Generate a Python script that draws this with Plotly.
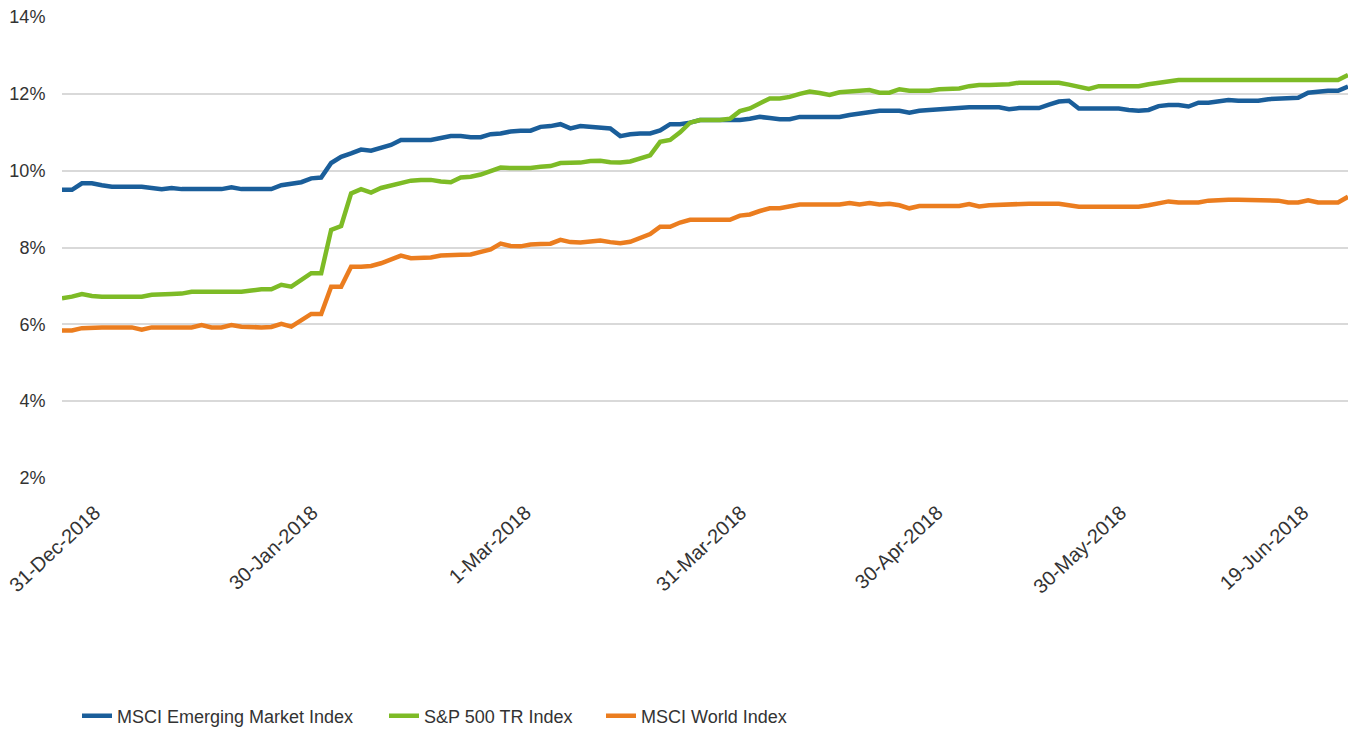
import plotly.graph_objects as go

# ---- data (percent) ----
tick_labels = ["31-Dec-2018", "30-Jan-2018", "1-Mar-2018", "31-Mar-2018",
               "30-Apr-2018", "30-May-2018", "19-Jun-2018"]
tick_positions = [3.3, 25.1, 46.5, 68.1, 87.8, 106.2, 124.5]

msci_em = [
    9.50, 9.50, 9.67, 9.67, 9.62, 9.58, 9.58, 9.58, 9.58, 9.55,
    9.52, 9.55, 9.52, 9.52, 9.52, 9.52, 9.52, 9.57, 9.52, 9.52,
    9.52, 9.52, 9.62, 9.67, 9.70, 9.80, 9.82, 10.20, 10.36, 10.45,
    10.55, 10.52, 10.58, 10.67, 10.80, 10.80, 10.80, 10.80, 10.85, 10.90,
    10.90, 10.87, 10.87, 10.95, 10.97, 11.02, 11.04, 11.04, 11.14, 11.16,
    11.21, 11.10, 11.16, 11.14, 11.10, 11.10, 10.90, 10.95, 10.97, 10.97,
    11.05, 11.21, 11.21, 11.25, 11.32, 11.32, 11.32, 11.32, 11.32, 11.35,
    11.40, 11.37, 11.34, 11.34, 11.40, 11.40, 11.40, 11.40, 11.40, 11.45,
    11.49, 11.52, 11.56, 11.56, 11.56, 11.51, 11.56, 11.58, 11.60, 11.63,
    11.65, 11.65, 11.65, 11.65, 11.65, 11.60, 11.63, 11.63, 11.63, 11.72,
    11.80, 11.82, 11.62, 11.62, 11.62, 11.62, 11.62, 11.58, 11.56, 11.58,
    11.68, 11.71, 11.71, 11.67, 11.77, 11.77, 11.80, 11.84, 11.82, 11.82,
    11.82, 11.86, 11.88, 11.88, 11.90, 12.03, 12.06, 12.08, 12.08, 12.19,
]

sp500_tr = [
    6.68, 6.72, 6.79, 6.74, 6.72, 6.72, 6.72, 6.72, 6.72, 6.77,
    6.79, 6.79, 6.80, 6.85, 6.85, 6.85, 6.87, 6.87, 6.85, 6.88,
    6.91, 6.91, 7.03, 6.98, 7.15, 7.33, 7.33, 8.46, 8.56, 9.41,
    9.52, 9.43, 9.55, 9.62, 9.67, 9.74, 9.76, 9.76, 9.72, 9.70,
    9.82, 9.84, 9.90, 9.98, 10.08, 10.07, 10.06, 10.07, 10.10, 10.12,
    10.20, 10.21, 10.21, 10.25, 10.26, 10.22, 10.21, 10.24, 10.32, 10.40,
    10.75, 10.80, 11.00, 11.25, 11.32, 11.32, 11.32, 11.35, 11.55, 11.62,
    11.75, 11.88, 11.88, 11.92, 12.00, 12.06, 12.02, 11.97, 12.04, 12.06,
    12.06, 12.10, 12.03, 12.03, 12.12, 12.08, 12.08, 12.08, 12.12, 12.14,
    12.14, 12.20, 12.23, 12.23, 12.23, 12.25, 12.29, 12.29, 12.29, 12.29,
    12.29, 12.24, 12.19, 12.13, 12.20, 12.20, 12.20, 12.20, 12.20, 12.25,
    12.29, 12.31, 12.36, 12.36, 12.36, 12.36, 12.36, 12.36, 12.36, 12.36,
    12.36, 12.36, 12.36, 12.36, 12.36, 12.36, 12.36, 12.36, 12.36, 12.49,
]

msci_world = [
    5.84, 5.84, 5.90, 5.92, 5.92, 5.92, 5.92, 5.92, 5.86, 5.92,
    5.92, 5.92, 5.92, 5.92, 5.98, 5.92, 5.92, 5.98, 5.94, 5.92,
    5.92, 5.93, 6.01, 5.94, 6.10, 6.27, 6.27, 6.98, 6.98, 7.50,
    7.50, 7.52, 7.59, 7.70, 7.79, 7.72, 7.72, 7.74, 7.79, 7.81,
    7.81, 7.82, 7.89, 7.95, 8.10, 8.04, 8.03, 8.08, 8.09, 8.10,
    8.20, 8.14, 8.13, 8.16, 8.18, 8.14, 8.11, 8.15, 8.24, 8.35,
    8.54, 8.54, 8.65, 8.72, 8.72, 8.72, 8.72, 8.72, 8.83, 8.86,
    8.95, 9.02, 9.02, 9.08, 9.12, 9.12, 9.12, 9.12, 9.12, 9.16,
    9.12, 9.16, 9.12, 9.14, 9.10, 9.02, 9.08, 9.08, 9.08, 9.08,
    9.08, 9.13, 9.07, 9.10, 9.11, 9.13, 9.15, 9.14, 9.14, 9.14,
    9.14, 9.10, 9.06, 9.06, 9.06, 9.06, 9.06, 9.06, 9.06, 9.10,
    9.16, 9.20, 9.17, 9.17, 9.17, 9.22, 9.24, 9.24, 9.24, 9.24,
    9.24, 9.24, 9.22, 9.17, 9.17, 9.23, 9.17, 9.17, 9.17, 9.32,
]

series_names = ["MSCI Emerging Market Index", "S&P 500 TR Index", "MSCI World Index"]
series_colors = ["#1A5E9A", "#7DBB26", "#EB7D1F"]

x_index = list(range(len(msci_em)))

FONT = "Liberation Sans Narrow, Arial Narrow, Liberation Sans, Arial, sans-serif"
TXT = "#333333"

legend_ids = ["legend", "legend2", "legend3"]
legend_x_px = [77, 384, 601]

fig = go.Figure()
for name, vals, col, lg in zip(series_names, [msci_em, sp500_tr, msci_world],
                               series_colors, legend_ids):
    fig.add_trace(go.Scatter(x=x_index, y=vals, mode="lines", name=name,
                             legend=lg, line=dict(color=col, width=4.5)))

legend_layout = {}
for lg, px in zip(legend_ids, legend_x_px):
    legend_layout[lg] = dict(orientation="h", xref="container", yref="container",
                             x=px / 1348, y=0.023, xanchor="left", yanchor="middle",
                             font=dict(family=FONT, size=18, color=TXT),
                             bgcolor="rgba(0,0,0,0)")

fig.update_layout(
    width=1348, height=733,
    margin=dict(l=62, r=0, t=17, b=255),
    paper_bgcolor="white", plot_bgcolor="white",
    font=dict(family=FONT, size=18, color=TXT),
    showlegend=True,
    **legend_layout,
)
fig.update_xaxes(range=[0, len(msci_em) - 1], showgrid=False, zeroline=False,
                 showline=False, tickmode="array", tickvals=tick_positions,
                 ticktext=tick_labels, tickangle=-43, ticklabeloverflow="allow",
                 ticks="outside", ticklen=14, tickcolor="rgba(0,0,0,0)",
                 tickfont=dict(family=FONT, size=20, color=TXT))
fig.update_yaxes(range=[2, 14], dtick=2, ticksuffix="%", showgrid=True,
                 gridcolor="#D9D9D9", gridwidth=1.5, zeroline=False, showline=False,
                 ticks="outside", ticklen=12, tickcolor="rgba(0,0,0,0)",
                 tickfont=dict(family=FONT, size=18, color=TXT))

fig.write_html("out.html", config={"displayModeBar": False},
               post_script="document.body.style.margin='0';")
